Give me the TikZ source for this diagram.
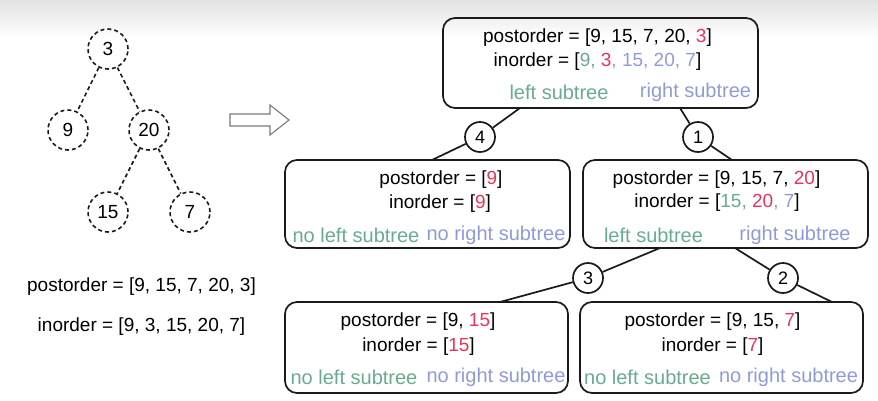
\documentclass[tikz,border=0pt]{standalone}
\usepackage{fontspec}
\setmainfont{Liberation Sans}
\definecolor{rd}{HTML}{E8345A}
\definecolor{gn}{HTML}{68AB8D}
\definecolor{pu}{HTML}{909AD8}
\definecolor{bgray}{HTML}{E2E2E2}
\definecolor{agray}{HTML}{7A7A7A}
\definecolor{ink}{HTML}{1A1A1A}
\begin{document}
\begin{tikzpicture}[x=1pt,y=-1pt,
  tnode/.style={circle,draw=ink,line width=1.6pt,dash pattern=on 4pt off 3pt,minimum size=40pt,inner sep=0pt,font=\fontsize{19}{22}\selectfont},
  tedge/.style={draw=ink,line width=1.6pt,dash pattern=on 4pt off 3pt},
  box/.style={draw=ink,rounded corners=12pt,line width=1.7pt,inner sep=0pt},
  num/.style={circle,draw=ink,line width=1.7pt,minimum size=30pt,inner sep=0pt,font=\fontsize{18}{20}\selectfont},
  txt/.style={inner sep=0pt,font=\fontsize{19}{22}\selectfont},
  lbl/.style={inner sep=0pt,font=\fontsize{20}{22}\selectfont},
  conn/.style={draw=ink,line width=1.7pt}
]
\useasboundingbox (0,0) rectangle (878,400);
\shade[top color=bgray,bottom color=white] (0,0) rectangle (878,38);

% left tree
\node[tnode] (n3) at (108,49) {3};
\node[tnode] (n9) at (68,130) {9};
\node[tnode] (n20) at (149,130) {20};
\node[tnode] (n15) at (108,212) {15};
\node[tnode] (n7) at (190,212) {7};
\draw[tedge] (n3) -- (n9);
\draw[tedge] (n3) -- (n20);
\draw[tedge] (n20) -- (n15);
\draw[tedge] (n20) -- (n7);

\node[txt] (lp) at (141.5,287) {postorder = [9, 15, 7, 20, 3]};
\node[txt] (li) at (141.5,327) {inorder = [9, 3, 15, 20, 7]};

% hollow arrow
\draw[agray,line width=1.1pt] (230,114) -- (270,114) -- (270,105) -- (289,120) -- (270,135) -- (270,126) -- (230,126) -- cycle;

% boxes
\node[box,minimum width=315pt,minimum height=90pt] (top) at (600.5,63) {};
\node[box,minimum width=285pt,minimum height=88pt] (l1) at (427.5,204) {};
\node[box,minimum width=285pt,minimum height=88pt] (r1) at (725.5,204) {};
\node[box,minimum width=283pt,minimum height=91pt] (l2) at (426.5,347.5) {};
\node[box,minimum width=283pt,minimum height=91pt] (r2) at (721.5,347.5) {};

% top box text
\node[txt] (tp) at (597.5,38) {postorder = [9, 15, 7, 20, \textcolor{rd}{3}]};
\node[txt] (ti) at (597.5,62) {inorder = [\textcolor{gn}{9,} \textcolor{rd}{3}\textcolor{pu}{, 15, 20, 7}]};
\node[lbl,text=gn] (tl) at (559,92) {left subtree};
\node[lbl,text=pu] (tr) at (695.5,92) {right subtree};

% l1 text
\node[txt] (l1p) at (441,180) {postorder = [\textcolor{rd}{9}]};
\node[txt] (l1i) at (440,204) {inorder = [\textcolor{rd}{9}]};
\node[lbl,text=gn] (l1l) at (356,235) {no left subtree};
\node[lbl,text=pu] (l1r) at (496,235) {no right subtree};

% r1 text
\node[txt] (r1p) at (716.5,180) {postorder = [9, 15, 7, \textcolor{rd}{20}]};
\node[txt] (r1i) at (717,203) {inorder = [\textcolor{gn}{15,} \textcolor{rd}{20}\textcolor{pu}{, 7}]};
\node[lbl,text=gn] (r1l) at (653.5,235) {left subtree};
\node[lbl,text=pu] (r1r) at (795,235) {right subtree};

% l2 text
\node[txt] (l2p) at (418,322) {postorder = [9, \textcolor{rd}{15}]};
\node[txt] (l2i) at (418.5,347) {inorder = [\textcolor{rd}{15}]};
\node[lbl,text=gn] (l2l) at (354,377) {no left subtree};
\node[lbl,text=pu] (l2r) at (496,377) {no right subtree};

% r2 text
\node[txt] (r2p) at (712.5,322) {postorder = [9, 15, \textcolor{rd}{7}]};
\node[txt] (r2i) at (712.5,347) {inorder = [\textcolor{rd}{7}]};
\node[lbl,text=gn] (r2l) at (647.5,377) {no left subtree};
\node[lbl,text=pu] (r2r) at (788.5,377) {no right subtree};

% numbered circles
\node[num] (c4) at (480,137) {4};
\node[num] (c1) at (698,137) {1};
\node[num] (c3) at (588,278) {3};
\node[num] (c2) at (783,278) {2};

\coordinate (t4) at (520,108);
\coordinate (b4) at (432,160);
\coordinate (t1) at (680,108);
\coordinate (b1) at (732,160);
\coordinate (t3) at (660,248);
\coordinate (b3) at (500,302);
\coordinate (t2) at (735,248);
\coordinate (b2) at (832,302);

\draw[conn] (t4) -- (c4) -- (b4);
\draw[conn] (t1) -- (c1) -- (b1);
\draw[conn] (t3) -- (c3) -- (b3);
\draw[conn] (t2) -- (c2) -- (b2);
\end{tikzpicture}
\end{document}
